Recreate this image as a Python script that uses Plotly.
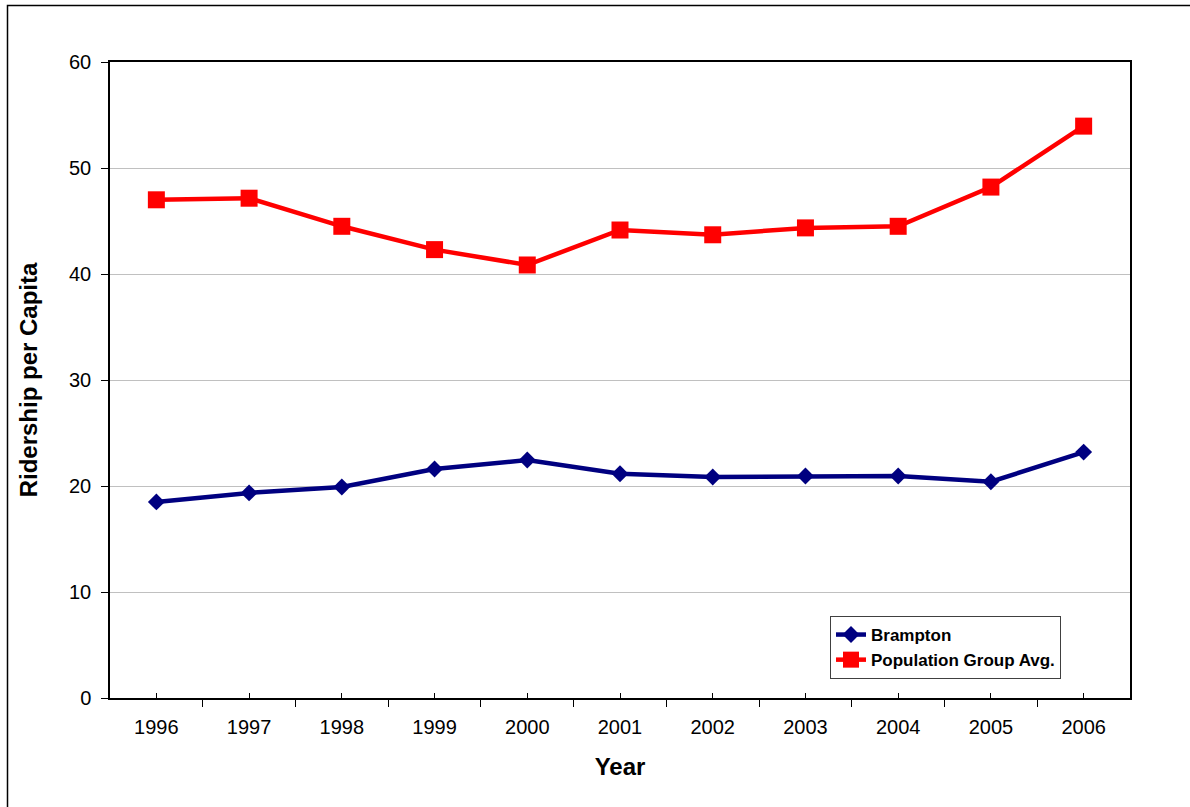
import plotly.graph_objects as go

# Annual ridership per capita
years = ["1996", "1997", "1998", "1999", "2000", "2001", "2002", "2003", "2004", "2005", "2006"]
brampton = [18.5, 19.35, 19.9, 21.6, 22.45, 21.15, 20.85, 20.95, 20.95, 20.4, 23.2]
group_avg = [47.0, 47.15, 44.5, 42.3, 40.85, 44.15, 43.7, 44.35, 44.5, 48.2, 53.95]
y_ticks = [0, 10, 20, 30, 40, 50, 60]

FONT = "Arial, 'Liberation Sans', sans-serif"
x_pos = list(range(len(years)))

fig = go.Figure()
fig.add_trace(go.Scatter(
    x=x_pos, y=brampton, name="Brampton", mode="lines+markers",
    line=dict(color="#000080", width=4.5),
    marker=dict(symbol="diamond", size=13, color="#000080"),
))
fig.add_trace(go.Scatter(
    x=x_pos, y=group_avg, name="Population Group Avg.", mode="lines+markers",
    line=dict(color="#FF0000", width=4.5),
    marker=dict(symbol="square", size=17, color="#FF0000"),
))

L, R, T, B = 110, 60, 62, 109
W, H = 1190, 807
pw, ph = W - L - R, H - T - B

# outer chart frame
fig.add_shape(
    type="rect", xref="paper", yref="paper",
    x0=(7.5 - L) / pw, x1=(W + 20 - L) / pw,
    y0=-(H + 20 - (T + ph)) / ph, y1=(T + ph - 5.5) / ph,
    line=dict(color="black", width=1.5), fillcolor="rgba(0,0,0,0)", layer="below",
)

fig.update_layout(
    width=W, height=H,
    margin=dict(l=L, r=R, t=T, b=B),
    paper_bgcolor="white", plot_bgcolor="white",
    font=dict(family=FONT, size=20, color="black"),
    showlegend=True,
    legend=dict(
        x=(830 - L) / pw, y=(T + ph - 616) / ph, xanchor="left", yanchor="top",
        bordercolor="#404040", borderwidth=1, bgcolor="white",
        font=dict(family=FONT, size=17, color="black", weight="bold"),
        tracegroupgap=0, itemwidth=30,
    ),
    xaxis=dict(
        range=[-0.5, len(years) - 0.5],
        tickvals=x_pos, ticktext=years,
        ticks="inside", ticklen=5, tickcolor="black",
        ticklabelstandoff=10,
        minor=dict(tickvals=[i - 0.5 for i in range(len(years) + 1)],
                   ticks="outside", ticklen=7, tickcolor="black"),
        showgrid=False, zeroline=False,
        showline=True, linecolor="black", linewidth=1.5, mirror=True,
        title=dict(text="Year", font=dict(family=FONT, size=24, weight="bold"), standoff=21),
        tickfont=dict(size=20),
    ),
    yaxis=dict(
        range=[0, 60], tickvals=y_ticks,
        ticks="outside", ticklen=7, tickcolor="black",
        ticklabelstandoff=6,
        showgrid=True, gridcolor="#C0C0C0", gridwidth=1,
        zeroline=False,
        showline=True, linecolor="black", linewidth=1.5, mirror=True,
        title=dict(text="Ridership per Capita", font=dict(family=FONT, size=24, weight="bold"), standoff=25),
        tickfont=dict(size=20),
    ),
)

fig.write_html("out.html")
